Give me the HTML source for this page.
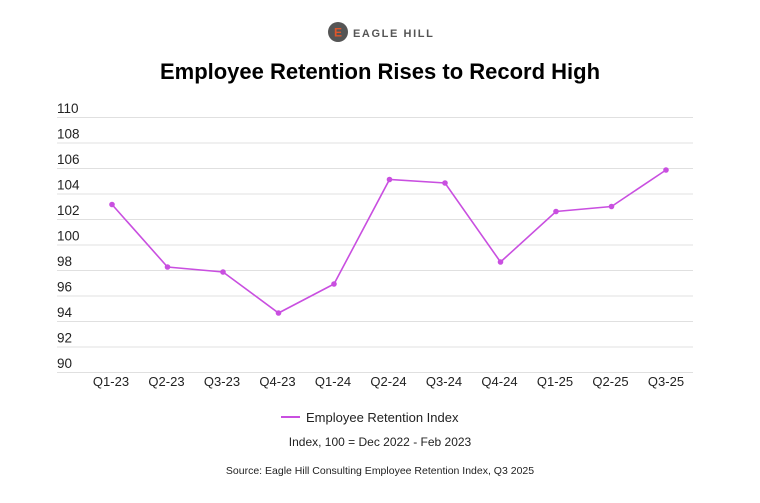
<!DOCTYPE html>
<html><head><meta charset="utf-8"><style>
body{margin:0;background:#fff;width:760px;height:498px;overflow:hidden;font-family:"Liberation Sans",sans-serif}
</style></head><body>
<svg width="760" height="498" xmlns="http://www.w3.org/2000/svg" font-family="Liberation Sans, sans-serif">
<circle cx="338" cy="32" r="10" fill="#555"/>
<text x="338" y="36.5" font-size="12" font-weight="bold" fill="#e0562b" text-anchor="middle">E</text>
<text x="353" y="37" font-size="11" font-weight="bold" fill="#555" letter-spacing="1.6">EAGLE HILL</text>
<text x="380" y="79" font-size="22" font-weight="bold" fill="#000" text-anchor="middle">Employee Retention Rises to Record High</text>
<g stroke="#e0e0e0" stroke-width="1">
<line x1="57" x2="693" y1="117.5" y2="117.5"/><line x1="57" x2="693" y1="143" y2="143"/>
<line x1="57" x2="693" y1="168.5" y2="168.5"/><line x1="57" x2="693" y1="194" y2="194"/>
<line x1="57" x2="693" y1="219.5" y2="219.5"/><line x1="57" x2="693" y1="245" y2="245"/>
<line x1="57" x2="693" y1="270.5" y2="270.5"/><line x1="57" x2="693" y1="296" y2="296"/>
<line x1="57" x2="693" y1="321.5" y2="321.5"/><line x1="57" x2="693" y1="347" y2="347"/>
<line x1="57" x2="693" y1="372.5" y2="372.5"/>
</g>
<g font-size="13.5" fill="#222">
<text x="57" y="113">110</text><text x="57" y="138.5">108</text><text x="57" y="164">106</text>
<text x="57" y="189.5">104</text><text x="57" y="215">102</text><text x="57" y="240.5">100</text>
<text x="57" y="266">98</text><text x="57" y="291.5">96</text><text x="57" y="317">94</text>
<text x="57" y="342.5">92</text><text x="57" y="368">90</text>
</g>
<g font-size="13" fill="#222" text-anchor="middle">
<text x="111" y="386">Q1-23</text><text x="166.5" y="386">Q2-23</text><text x="222" y="386">Q3-23</text>
<text x="277.5" y="386">Q4-23</text><text x="333" y="386">Q1-24</text><text x="388.5" y="386">Q2-24</text>
<text x="444" y="386">Q3-24</text><text x="499.5" y="386">Q4-24</text><text x="555" y="386">Q1-25</text>
<text x="610.5" y="386">Q2-25</text><text x="666" y="386">Q3-25</text>
</g>
<polyline fill="none" stroke="#c94fe0" stroke-width="1.6" points="112,204.5 167.5,267 223,272 278.5,313 334,284 389.5,179.5 445,183 500.5,262 556,211.5 611.5,206.5 666,170"/>
<g fill="#c94fe0">
<circle cx="112" cy="204.5" r="2.8"/><circle cx="167.5" cy="267" r="2.8"/><circle cx="223" cy="272" r="2.8"/>
<circle cx="278.5" cy="313" r="2.8"/><circle cx="334" cy="284" r="2.8"/><circle cx="389.5" cy="179.5" r="2.8"/>
<circle cx="445" cy="183" r="2.8"/><circle cx="500.5" cy="262" r="2.8"/><circle cx="556" cy="211.5" r="2.8"/>
<circle cx="611.5" cy="206.5" r="2.8"/><circle cx="666" cy="170" r="2.8"/>
</g>
<line x1="281" x2="300" y1="417" y2="417" stroke="#c94fe0" stroke-width="2"/>
<text x="306" y="422" font-size="13" fill="#222">Employee Retention Index</text>
<text x="380" y="446" font-size="12" fill="#222" text-anchor="middle">Index, 100 = Dec 2022 - Feb 2023</text>
<text x="380" y="474" font-size="10.5" fill="#222" text-anchor="middle">Source: Eagle Hill Consulting Employee Retention Index, Q3 2025</text>
</svg>
</body></html>
